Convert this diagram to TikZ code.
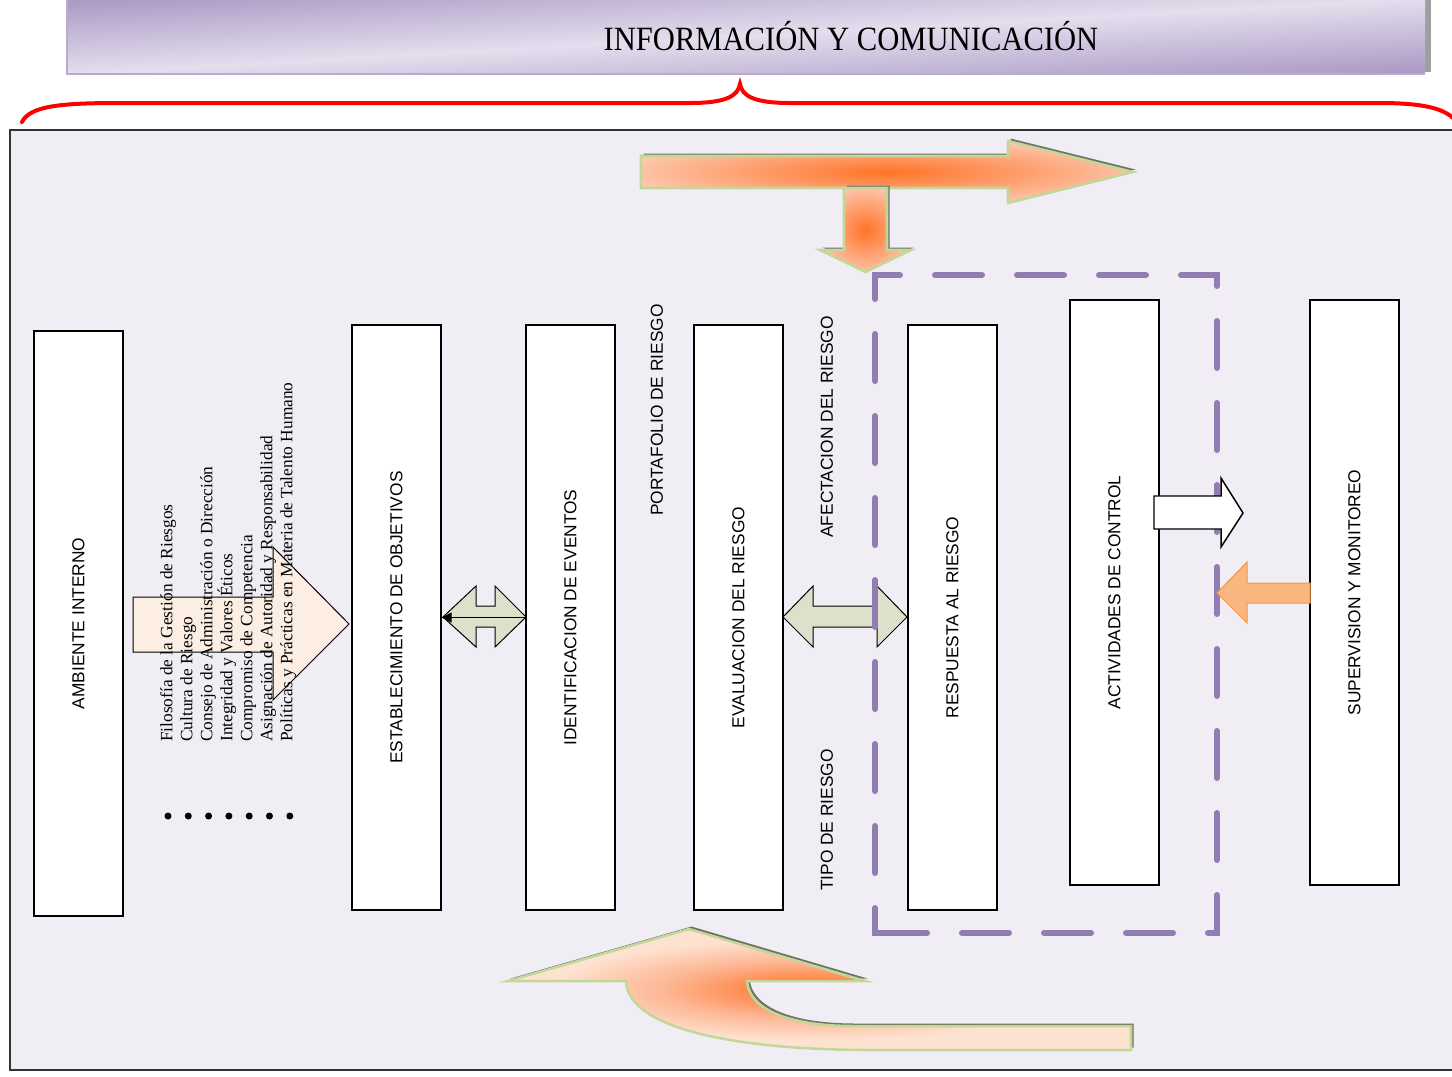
\documentclass[tikz,border=0pt]{standalone}
\usepackage{fontspec}
\setmainfont{Liberation Serif}
\setsansfont{Liberation Sans}
\usetikzlibrary{arrows.meta,calc}

\definecolor{panelbg}{RGB}{240,238,244}
\definecolor{banlight}{RGB}{228,222,237}
\definecolor{bandark}{RGB}{172,155,198}
\definecolor{banedge}{RGB}{184,170,208}
\definecolor{glowcore}{RGB}{255,116,38}
\definecolor{glowhot}{RGB}{255,140,80}
\definecolor{glowmid}{RGB}{253,184,150}
\definecolor{glowedge}{RGB}{254,226,208}
\definecolor{arrowrim}{RGB}{196,215,155}
\definecolor{rimshadow}{RGB}{112,114,98}
\definecolor{sage}{RGB}{221,225,203}
\definecolor{frameviolet}{RGB}{146,125,178}
\definecolor{softorange}{RGB}{249,182,126}
\definecolor{deeporange}{RGB}{247,150,70}
\definecolor{leftpeach}{RGB}{253,238,227}
\definecolor{bracered}{RGB}{255,0,0}

% radial glow used inside the big feedback arrows
\pgfdeclareradialshading{glow}{\pgfpointorigin}{color(0bp)=(glowcore); color(8bp)=(glowhot); color(22bp)=(glowmid); color(34bp)=(glowedge); color(50bp)=(glowedge)}
\pgfdeclareradialshading{glowleft}{\pgfpoint{-1bp}{0bp}}{color(0bp)=(glowcore); color(5bp)=(glowhot); color(12bp)=(glowmid); color(21bp)=(glowedge); color(50bp)=(glowedge)}

% outlines of the block arrows (pixel grid, y downwards)
\def\toparrow{(641,156) -- (1008,156) -- (1008,141) -- (1133,172) -- (1008,203) -- (1008,188) -- (641,188) -- cycle}
\def\downarrow{(844,188) -- (887,188) -- (887,250) -- (911,250) -- (865.5,272) -- (820,250) -- (844,250) -- cycle}
\def\returnarrow{(508,981) -- (689,929) -- (865,981) -- (747,981) .. controls (749,1010) and (790,1026) .. (853,1026) -- (1131,1026) -- (1131,1050) -- (873,1050) .. controls (740,1050) and (628,1030) .. (626,981) -- cycle}

\begin{document}
\begin{tikzpicture}[x=0.75pt,y=-0.75pt,
  stage/.style={draw=black, line width=0.9pt, fill=white, minimum width=66.75pt,
    minimum height=438.75pt, inner sep=0pt},
  stagelabel/.style={rotate=90, font=\sffamily\fontsize{13}{15}\selectfont, inner sep=0pt},
  glowrim/.style={draw=arrowrim, line width=1.9pt, line join=miter},
  rimshade/.style={fill=rimshadow, shift={(2.5,-2.5)}},
  blockarrow/.style={draw=black, line width=0.75pt, fill=sage, line join=miter},
  frameline/.style={frameviolet, line width=4.5pt, line cap=round, dash pattern=on 35.25pt off 26.25pt},
  dot/.style={fill=black},
]
\useasboundingbox (0,0) rectangle (1452,1076);
\clip (0,0) rectangle (1452,1076);

% title banner
\fill[gray!75] (1425,0) rectangle (1431,72);
\shade[top color=bandark, bottom color=bandark, middle color=banlight, shading angle=3.2]
  (67,-2) rectangle (1425,74);
\draw[banedge, line width=1.5pt] (67,-2) -- (67,74) -- (1425,74);
\node[font=\fontsize{25.5}{28}\selectfont, xscale=0.9, anchor=base] (title) at (851,50)
  {INFORMACIÓN Y COMUNICACIÓN};

% brace under the banner
\draw[bracered, line width=3pt, line cap=round]
  (22,122) .. controls (30,106) and (60,103) .. (120,103) -- (690,103)
  .. controls (726,103) and (738,96) .. (740,84)
  .. controls (742,96) and (754,103) .. (790,103) -- (1380,103)
  .. controls (1428,103) and (1446,110) .. (1455,120);

% panel
\draw[fill=panelbg, draw=black!80, line width=0.9pt] (10,130) rectangle (1470,1070);

% top feedback arrows
\fill[rimshade] \toparrow;
\shadedraw[shading=glow, glowrim] \toparrow;
\fill[rimshade] \downarrow;
\shadedraw[shading=glow, glowrim] \downarrow;

% bottom return arrow
\fill[rimshade] \returnarrow;
\shadedraw[shading=glowleft, glowrim] \returnarrow;

% stages
\node[stage] (amb) at (78.5,623.5) {};
\node[stage] (est) at (396.5,617.5) {};
\node[stage] (ide) at (570.5,617.5) {};
\node[stage] (eva) at (738.5,617.5) {};
\node[stage] (res) at (952.5,617.5) {};
\node[stage] (act) at (1114.5,592.5) {};
\node[stage] (sup) at (1354.5,592.5) {};

\node[stagelabel] (amb-t) at (amb) {AMBIENTE INTERNO};
\node[stagelabel] (est-t) at (est) {ESTABLECIMIENTO DE OBJETIVOS};
\node[stagelabel] (ide-t) at (ide) {IDENTIFICACION DE EVENTOS};
\node[stagelabel] (eva-t) at (eva) {EVALUACION DEL RIESGO};
\node[stagelabel] (res-t) at (res) {RESPUESTA AL RIESGO};
\node[stagelabel] (act-t) at (act) {ACTIVIDADES DE CONTROL};
\node[stagelabel] (sup-t) at (sup) {SUPERVISION Y MONITOREO};

\node[stagelabel] (port) at (657,410) {PORTAFOLIO DE RIESGO};
\node[stagelabel] (afec) at (827,427) {AFECTACION DEL RIESGO};
\node[stagelabel] (tipo) at (827,820) {TIPO DE RIESGO};

% arrow from the internal environment
\draw[fill=leftpeach, draw=black, line width=0.75pt, line join=miter]
  (133,597) -- (273,597) -- (273,547) -- (349,624) -- (273,700) -- (273,652) -- (133,652) -- cycle;

\node[rotate=90, anchor=north west, align=left, inner sep=0pt,
  font=\fontsize{13}{15}\selectfont] (values) at (160,742)
  {Filosofía de la Gestión de Riesgos\\
   Cultura de Riesgo\\
   Consejo de Administración o Dirección\\
   Integridad y Valores Éticos\\
   Compromiso de Competencia\\
   Asignación de Autoridad y Responsabilidad\\
   Políticas y Prácticas en Materia de Talento Humano};

\foreach \i in {0,...,6}
  \fill[dot] (168+20.3*\i,816) circle (3.5);

% double arrows between stages
\draw[blockarrow] (443,617) -- (476,586) -- (476,606) -- (495,606) -- (495,586) -- (526,617)
  -- (495,647) -- (495,627) -- (476,627) -- (476,647) -- cycle;
\draw[line width=0.75pt, -{Triangle[length=7.5pt, width=7.5pt]}] (ide.west) -- (est.east);

\draw[blockarrow] (783,617) -- (813,586) -- (813,606) -- (877,606) -- (877,586) -- (907,617)
  -- (877,647) -- (877,627) -- (813,627) -- (813,647) -- cycle;

% dashed response/control frame
\draw[frameline] (875,297) -- (875,275) -- (1217,275) -- (1217,933) -- (897,933);
\draw[frameline] (897,933) -- (875,933) -- (875,297);

% control / monitoring arrows
\draw[fill=white, draw=black, line width=1.1pt, line join=miter]
  (1154,496) -- (1221,496) -- (1221,478) -- (1243,513) -- (1221,547) -- (1221,529) -- (1154,529) -- cycle;
\draw[fill=softorange, draw=deeporange, line width=0.75pt, line join=miter]
  (1217,593) -- (1247,562) -- (1247,583) -- (1310,583) -- (1310,603) -- (1247,603) -- (1247,623) -- cycle;
\end{tikzpicture}
\end{document}
